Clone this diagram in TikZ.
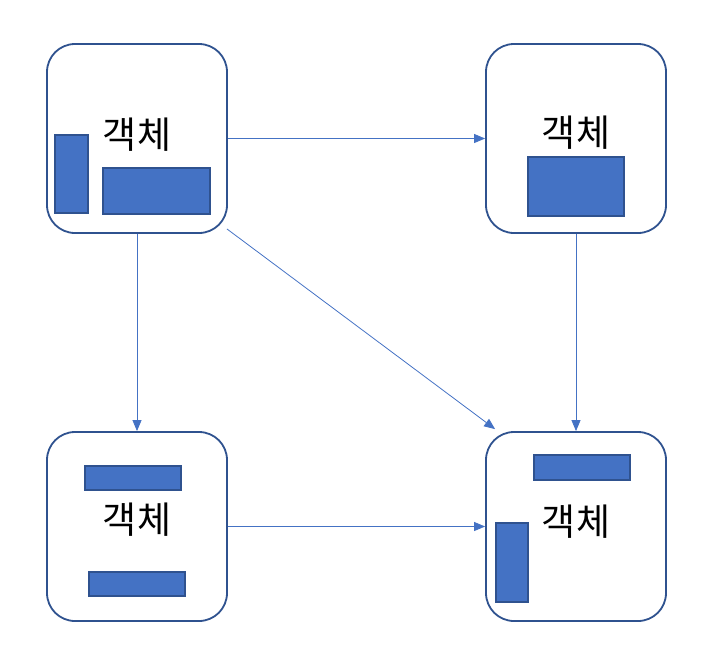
\documentclass[tikz,border=0pt]{standalone}
\usepackage{fontspec}
\usepackage{xcolor}
\usepackage{tikz}
\usetikzlibrary{arrows.meta, positioning, calc}
\newfontfamily\krfont{Noto Sans CJK KR}
\definecolor{objline}{HTML}{2F528F}
\definecolor{objfill}{HTML}{4472C4}

\begin{document}
\begin{tikzpicture}[x=1pt, y=-1pt,
  obj/.style={draw=objline, line width=1.8pt, rounded corners=28pt, fill=white,
    minimum width=180pt, minimum height=189pt, inner sep=0pt},
  part/.style={draw=objline, line width=1.3pt, fill=objfill, inner sep=0pt},
  label/.style={font=\krfont\fontsize{37}{42}\selectfont, inner sep=0pt},
  arrow/.style={-{Triangle[length=11pt, width=9pt]}, line width=0.8pt, draw=objfill}]
  \useasboundingbox (0,0) rectangle (708,662);
  % the four objects
  \node[obj] (tl) at (137,138.5) {};
  \node[obj] (tr) at (576,138.5) {};
  \node[obj] (bl) at (137,526.5) {};
  \node[obj] (br) at (576,526.5) {};
  % parts inside them
  \node[part, minimum width=33pt, minimum height=78pt] (tla) at (71.5,174) {};
  \node[part, minimum width=107pt, minimum height=46pt] (tlb) at (156.5,191) {};
  \node[part, minimum width=96pt, minimum height=59pt] (tra) at (576,186.5) {};
  \node[part, minimum width=96pt, minimum height=24pt] (bla) at (133,478) {};
  \node[part, minimum width=96pt, minimum height=24pt] (blb) at (137,584) {};
  \node[part, minimum width=96pt, minimum height=25pt] (bra) at (582,467.5) {};
  \node[part, minimum width=32pt, minimum height=79pt] (brb) at (512,562.5) {};
  % texts
  \node[label] (tlt) at (137,135) {객체};
  \node[label] (trt) at (576,133) {객체};
  \node[label] (blt) at (137,520) {객체};
  \node[label] (brt) at (576,522) {객체};
  % links
  \draw[arrow] (tl) -- (tr);
  \draw[arrow] (tl) -- (bl);
  \draw[arrow] (tr) -- (br);
  \draw[arrow] (bl) -- (br);
  \draw[arrow] ($(tl.south east)+(-1,-5)$) -- ($(br.north west)+(10,-2)$);
\end{tikzpicture}
\end{document}
